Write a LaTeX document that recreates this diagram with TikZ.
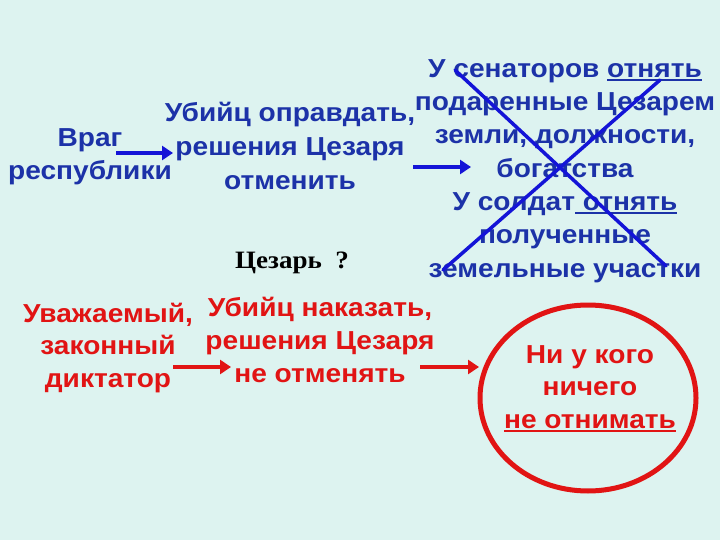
\documentclass[tikz,border=0pt]{standalone}
\usepackage{fontspec}
\setmainfont{Liberation Sans}[FakeStretch=1.08]
\newfontfamily\serifbf{Liberation Serif}[FakeStretch=1.08]
\usetikzlibrary{arrows.meta,shapes.geometric}
\definecolor{bg}{RGB}{221,243,240}
\definecolor{txtblue}{RGB}{28,50,168}
\definecolor{lineblue}{RGB}{20,20,215}
\definecolor{txtred}{RGB}{225,20,20}
\tikzset{
  btxt/.style={text=txtblue, align=center, inner sep=0pt, anchor=base, font=\fontsize{26}{33}\selectfont\bfseries},
  rtxt/.style={text=txtred, align=center, inner sep=0pt, anchor=base, font=\fontsize{26}{33}\selectfont\bfseries},
  barrow/.style={draw=lineblue, line width=4.5pt, -{Triangle[length=11pt,width=14pt]}},
  rarrow/.style={draw=txtred, line width=4.5pt, -{Triangle[length=11pt,width=14pt]}},
  crossline/.style={draw=lineblue, line width=3.5pt, line cap=round}
}
\newsavebox{\ulbox}
\newcommand{\ul}[1]{\sbox{\ulbox}{#1}\rlap{\rule[-3.5pt]{\wd\ulbox}{2pt}}\usebox{\ulbox}}
\begin{document}
\begin{tikzpicture}[x=1pt,y=-1pt]
\fill[bg] (0,0) rectangle (720,540);
\useasboundingbox (0,0) rectangle (720,540);

% anchor=base is the baseline of the last line
\node[btxt] (vrag) at (90,180) {Враг\\республики};
\node[btxt, font=\fontsize{26}{34}\selectfont\bfseries] (kill1) at (290,190) {Убийц оправдать,\\решения Цезаря\\отменить};
\node[btxt, font=\fontsize{26}{33.3}\selectfont\bfseries] (sen) at (565,277) {У сенаторов \ul{отнять}\\подаренные Цезарем\\земли, должности,\\богатства\\У солдат\ul{ отнять}\\полученные\\земельные участки};

\node[text=black, inner sep=0pt, anchor=base, font=\serifbf\fontsize{25}{28}\selectfont\bfseries] (caesar) at (292,268) {Цезарь\ \ ?};

\node[rtxt, font=\fontsize{26}{32.5}\selectfont\bfseries] (resp) at (108,387) {Уважаемый,\\законный\\диктатор};
\node[rtxt] (kill2) at (320,382) {Убийц наказать,\\решения Цезаря\\не отменять};

\node[draw=txtred, line width=5pt, ellipse, minimum width=216pt, minimum height=186pt, inner sep=0pt] (circ) at (588,398) {};
\node[rtxt, font=\fontsize{26}{32.5}\selectfont\bfseries] (none) at (590,428) {Ни у кого\\ничего\\\ul{не отнимать}};

% arrows
\coordinate (a1s) at (116,153);
\coordinate (a1e) at (173,153);
\coordinate (a2s) at (413,167);
\coordinate (a2e) at (471,167);
\coordinate (a3s) at (173,367);
\coordinate (a3e) at (231,367);
\coordinate (a4s) at (420,367);
\coordinate (a4e) at (479,367);
\draw[barrow] (a1s) -- (a1e);
\draw[barrow] (a2s) -- (a2e);
\draw[rarrow] (a3s) -- (a3e);
\draw[rarrow] (a4s) -- (a4e);

% cross
\coordinate (c1s) at (455,70);
\coordinate (c1e) at (666,266);
\coordinate (c2s) at (660,80);
\coordinate (c2e) at (443,270);
\draw[crossline] (c1s) -- (c1e);
\draw[crossline] (c2s) -- (c2e);
\end{tikzpicture}
\end{document}
